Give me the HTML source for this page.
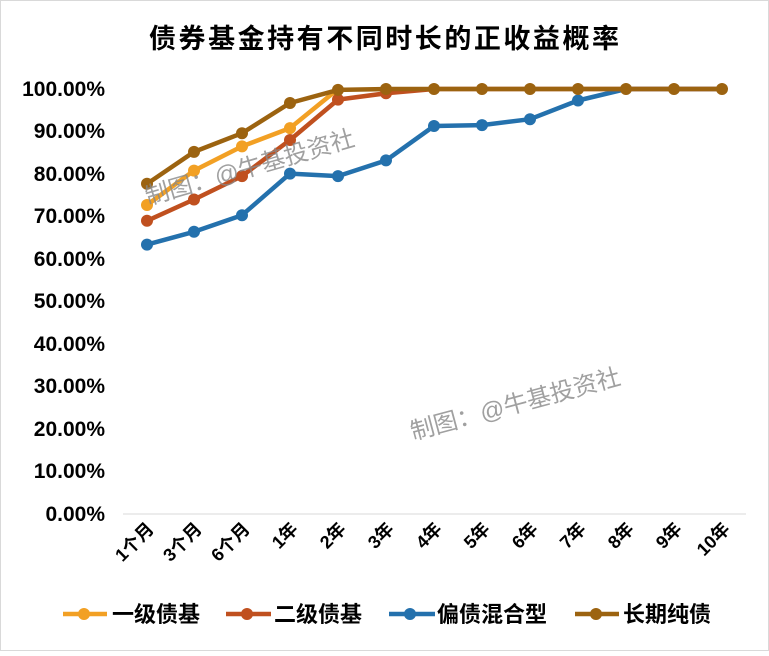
<!DOCTYPE html><html><head><meta charset="utf-8"><style>body{margin:0;background:#fff}</style></head><body>
<svg width="769" height="651" xmlns="http://www.w3.org/2000/svg" font-family="Liberation Sans, Noto Sans CJK SC, sans-serif">
<rect x="0.5" y="0.5" width="768" height="650" fill="#fff" stroke="#d9d9d9"/>
<text x="384" y="48" text-anchor="middle" font-size="27" font-weight="bold" textLength="470">债券基金持有不同时长的正收益概率</text>
<g font-size="21" font-weight="bold" text-anchor="end">
<text x="105" y="96">100.00%</text><text x="105" y="138">90.00%</text><text x="105" y="181">80.00%</text><text x="105" y="223">70.00%</text><text x="105" y="266">60.00%</text><text x="105" y="308">50.00%</text><text x="105" y="351">40.00%</text><text x="105" y="393">30.00%</text><text x="105" y="436">20.00%</text><text x="105" y="478">10.00%</text><text x="105" y="521">0.00%</text>
</g>
<line x1="123" y1="514" x2="746" y2="514" stroke="#d9d9d9"/>
<g font-size="18" font-weight="bold" text-anchor="end">
<text transform="translate(155,530) rotate(-45)">1个月</text>
<text transform="translate(203,530) rotate(-45)">3个月</text>
<text transform="translate(251,530) rotate(-45)">6个月</text>
<text transform="translate(299,530) rotate(-45)">1年</text>
<text transform="translate(347,530) rotate(-45)">2年</text>
<text transform="translate(395,530) rotate(-45)">3年</text>
<text transform="translate(443,530) rotate(-45)">4年</text>
<text transform="translate(491,530) rotate(-45)">5年</text>
<text transform="translate(539,530) rotate(-45)">6年</text>
<text transform="translate(587,530) rotate(-45)">7年</text>
<text transform="translate(635,530) rotate(-45)">8年</text>
<text transform="translate(683,530) rotate(-45)">9年</text>
<text transform="translate(731,530) rotate(-45)">10年</text>
</g>
<g fill="none" stroke-width="4.5" stroke-linejoin="round">
<polyline stroke="#2471ad" points="147,244.6 194,231.8 242,215.2 290,173.6 338,176.1 386,160.4 434,126 482,125.1 530,119.2 578,100.5 626,89 674,89 722,89"/>
<polyline stroke="#c0501f" points="147,220.8 194,199.5 242,176.1 290,140 338,99.6 386,93.3 434,89 482,89 530,89 578,89 626,89 674,89 722,89"/>
<polyline stroke="#f2a024" points="147,205 194,170.6 242,146.4 290,128.1 338,89"/>
<polyline stroke="#9c6310" points="147,183.8 194,151.9 242,133.2 290,103 338,89.9 386,89 434,89 482,89 530,89 578,89 626,89 674,89 722,89"/>
</g>
<g fill="#2471ad"><circle cx="147" cy="244.6" r="6"/><circle cx="194" cy="231.8" r="6"/><circle cx="242" cy="215.2" r="6"/><circle cx="290" cy="173.6" r="6"/><circle cx="338" cy="176.1" r="6"/><circle cx="386" cy="160.4" r="6"/><circle cx="434" cy="126" r="6"/><circle cx="482" cy="125.1" r="6"/><circle cx="530" cy="119.2" r="6"/><circle cx="578" cy="100.5" r="6"/></g>
<g fill="#c0501f"><circle cx="147" cy="220.8" r="6"/><circle cx="194" cy="199.5" r="6"/><circle cx="242" cy="176.1" r="6"/><circle cx="290" cy="140" r="6"/><circle cx="338" cy="99.6" r="6"/><circle cx="386" cy="93.3" r="6"/></g>
<g fill="#f2a024"><circle cx="147" cy="205" r="6"/><circle cx="194" cy="170.6" r="6"/><circle cx="242" cy="146.4" r="6"/><circle cx="290" cy="128.1" r="6"/></g>
<g fill="#9c6310"><circle cx="147" cy="183.8" r="6"/><circle cx="194" cy="151.9" r="6"/><circle cx="242" cy="133.2" r="6"/><circle cx="290" cy="103" r="6"/><circle cx="338" cy="89.9" r="6"/><circle cx="386" cy="89" r="6"/><circle cx="434" cy="89" r="6"/><circle cx="482" cy="89" r="6"/><circle cx="530" cy="89" r="6"/><circle cx="578" cy="89" r="6"/><circle cx="626" cy="89" r="6"/><circle cx="674" cy="89" r="6"/><circle cx="722" cy="89" r="6"/></g>
<text transform="translate(148,205) rotate(-16)" font-size="24" fill="#888" fill-opacity="0.8">制图：@牛基投资社</text>
<text transform="translate(413,440) rotate(-15)" font-size="24" fill="#888" fill-opacity="0.8">制图：@牛基投资社</text>
<g font-size="22" font-weight="bold">
<line x1="63" y1="614" x2="107" y2="614" stroke="#f2a024" stroke-width="4.5"/><circle cx="84" cy="614" r="6" fill="#f2a024"/><text x="112" y="622">一级债基</text>
<line x1="226" y1="614" x2="271" y2="614" stroke="#c0501f" stroke-width="4.5"/><circle cx="247" cy="614" r="6" fill="#c0501f"/><text x="274" y="622">二级债基</text>
<line x1="389" y1="614" x2="435" y2="614" stroke="#2471ad" stroke-width="4.5"/><circle cx="410" cy="614" r="6" fill="#2471ad"/><text x="437" y="622">偏债混合型</text>
<line x1="575" y1="614" x2="619" y2="614" stroke="#9c6310" stroke-width="4.5"/><circle cx="596" cy="614" r="6" fill="#9c6310"/><text x="623" y="622">长期纯债</text>
</g>
</svg></body></html>
